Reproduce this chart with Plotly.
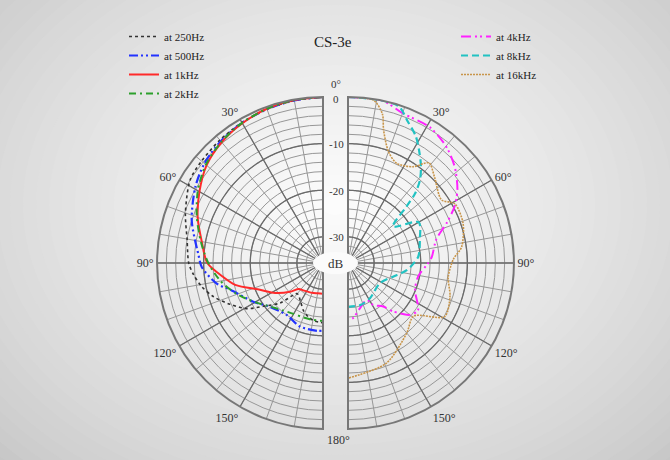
import plotly.graph_objects as go
import numpy as np

W, H = 670, 460

# ---------------- data (angle in degrees from front, level in dB) ----------------
ang_250 = [0, 10, 20, 30, 40, 50, 58, 70, 80, 90, 95, 101, 107, 114, 121, 126, 133, 140, 150, 158, 165, 172, 180]
db_250 = [0, -0.2, -0.5, -0.8, -1.2, -1.6, -2.0, -4.2, -6.0, -6.8, -7.7, -9.1, -11.0, -13.8, -16.6, -19.8, -23.0, -27.0, -26.0, -24.5, -23.6, -23.0, -22.8]

ang_500 = [0, 10, 20, 30, 40, 50, 59, 72, 86, 92, 101, 106, 119, 130, 145, 160, 175, 180]
db_500 = [0, -0.2, -0.5, -0.9, -1.5, -2.4, -3.7, -6.0, -8.8, -9.6, -12.4, -14.9, -18.5, -20.9, -22.0, -21.1, -21.0, -21.1]

ang_1k = [0, 10, 20, 30, 40, 50, 60, 70, 80, 90, 98, 104, 113, 122, 131, 137, 145, 160, 170, 180]
db_1k = [0, -0.1, -0.4, -1.0, -1.8, -3.0, -5.0, -7.0, -9.2, -10.8, -14.0, -16.2, -20.9, -23.5, -26.2, -28.0, -28.4, -28.8, -29.0, -29.0]

ang_2k = [0, 10, 20, 30, 40, 50, 60, 70, 80, 90, 100, 110, 120, 130, 140, 150, 160, 170, 180]
db_2k = [0, -0.1, -0.4, -0.9, -1.7, -2.8, -4.6, -6.8, -9.0, -11.0, -13.3, -16.0, -18.8, -21.0, -22.3, -23.0, -23.2, -23.2, -23.2]

ang_4k = [0, 12, 20, 31, 40, 48, 56, 62, 68, 75, 86, 90, 101, 112, 124, 130, 137, 141, 149, 153, 165, 175, 180]
db_4k = [0, 0, -1.4, -1.6, -2.9, -4.8, -7.3, -9.7, -12.8, -16.0, -17.6, -18.4, -20.3, -20.1, -17.5, -18.3, -21.4, -23.6, -25.1, -26.7, -25.6, -23.7, -23.4]

ang_8k = [0, 11, 18, 23, 28, 32, 37, 41, 44, 46, 51, 60, 72, 85, 97, 107, 122, 148, 164, 180]
db_8k = [0, 0, -0.3, -2.7, -4.7, -6.9, -9.6, -12.1, -14.9, -18.2, -23.2, -18.1, -19.4, -20.5, -22.9, -25.5, -27.5, -26.7, -26.2, -26.2]

ang_16k = [0, 9, 13, 15, 20, 26, 34, 39, 45, 56, 61, 71, 82, 88, 98, 108, 119, 129, 140, 159, 180]
db_16k = [0, -0.3, -2.8, -6.1, -10.2, -11.8, -10.7, -8.0, -9.4, -11.4, -9.4, -9.5, -11.0, -13.0, -13.9, -12.6, -11.9, -17.5, -16.0, -12.6, -10.9]

left_series = [
    ("at 250Hz", ang_250, db_250, "#333333", "dot", 1.6),
    ("at 500Hz", ang_500, db_500, "#2233ff", "9px,3px,2px,3px,2px,3px", 2.2),
    ("at 1kHz", ang_1k, db_1k, "#ff2a2a", "solid", 2.0),
    ("at 2kHz", ang_2k, db_2k, "#2ca02c", "7px,4px,2px,4px", 2.0),
]
right_series = [
    ("at 4kHz", ang_4k, db_4k, "#ff22ff", "10px,4px,2px,3px,2px,4px", 2.0),
    ("at 8kHz", ang_8k, db_8k, "#22c2c2", "7px,4px", 2.2),
    ("at 16kHz", ang_16k, db_16k, "#c8954a", "2px,1px", 1.6),
]

db_ticks = [0, -10, -20, -30]
angle_labels = [30, 60, 90, 120, 150]

R_MIN, R_MAX = -35.6, 0.0

# ---------------- layout geometry (pixels) ----------------
CY = 263
R_PX = 166
CX_L, CX_R = 323, 348


def px(x):
    return x / W


def py(y):
    return 1 - y / H


fig = go.Figure()

# background gradient (nested ellipses)
shapes = []
n = 40
gcx, gcy = 335, 205
for i in range(n):
    k = 1 - i / n
    rx, ry = 520 * k, 400 * k
    t = i / (n - 1)
    c = int(188 + (252 - 188) * (t ** 0.7))
    shapes.append(dict(type="circle", xref="paper", yref="paper",
                       x0=px(gcx - rx), x1=px(gcx + rx), y0=py(gcy + ry), y1=py(gcy - ry),
                       fillcolor=f"rgb({c},{c},{c})", line=dict(width=0), layer="below"))

GRID = "#979797"
MAJOR = "#6a6a6a"


def add_half(sub, series, legend):
    rr = np.linspace(R_MIN, R_MAX, 2)
    for a in range(0, 181, 30):
        fig.add_trace(go.Scatterpolar(r=rr, theta=[a, a], mode="lines", subplot=sub,
                                      line=dict(color=MAJOR, width=1.3), showlegend=False,
                                      hoverinfo="skip"))
    arc = np.linspace(0, 180, 181)
    for d in [-10, -20, -30]:
        fig.add_trace(go.Scatterpolar(r=np.full_like(arc, d), theta=arc, mode="lines",
                                      subplot=sub, line=dict(color=MAJOR, width=1.3),
                                      showlegend=False, hoverinfo="skip"))
    for name, a, d, col, dash, w in series:
        fig.add_trace(go.Scatterpolar(r=d, theta=a, mode="lines", name=name, subplot=sub,
                                      line=dict(color=col, dash=dash, width=w, shape="spline",
                                                smoothing=0.8),
                                      legend=legend))


add_half("polar", left_series, "legend")
add_half("polar2", right_series, "legend2")

angle_font = dict(family="Liberation Serif", size=12, color="#333333")


def polar_layout(side):
    if side == "L":
        sector, direction = [90, 270], "counterclockwise"
        x0, x1 = CX_L - R_PX, CX_L
    else:
        sector, direction = [-90, 90], "clockwise"
        x0, x1 = CX_R, CX_R + R_PX
    tv = list(range(0, 181, 10))
    tt = [f"{a}°" if a in angle_labels else "" for a in tv]
    return dict(
        domain=dict(x=[px(x0), px(x1)], y=[py(CY + R_PX), py(CY - R_PX)]),
        sector=sector,
        bgcolor="rgba(0,0,0,0)",
        radialaxis=dict(range=[R_MIN, R_MAX], tickvals=list(range(-34, 0, 2)),
                        showticklabels=False, ticks="", showline=False,
                        gridcolor=GRID, gridwidth=0.8),
        angularaxis=dict(rotation=90, direction=direction, tickvals=tv, ticktext=tt,
                         ticks="", gridcolor=GRID, gridwidth=0.8, showline=True,
                         linecolor="#777777", linewidth=2, tickfont=angle_font),
    )


def ann(x, y, text, size=12, color="#333333"):
    return dict(x=px(x), y=py(y), xref="paper", yref="paper", text=text, showarrow=False,
                xanchor="center", yanchor="middle",
                font=dict(family="Liberation Serif", size=size, color=color))


annotations = []
for d in db_ticks:
    ypx = CY - (d - R_MIN) / (R_MAX - R_MIN) * R_PX
    if d == 0:
        ypx += 1.5
    annotations.append(ann(336, ypx + 0.5, str(d), size=11))
annotations.append(ann(336, CY - R_PX - 13, "0°", size=11))
annotations.append(ann(338, CY + R_PX + 11, "180°", size=12))
annotations.append(ann(335.5, CY, "dB", size=13))
annotations.append(ann(333, 42, "CS-3e", size=15, color="#222222"))

# white cut-out round the centre label
shapes.append(dict(type="circle", xref="paper", yref="paper",
                   x0=px(313), x1=px(358), y0=py(274), y1=py(252),
                   fillcolor="#fbfbfb", line=dict(width=0), layer="above"))

legend_font = dict(family="Liberation Serif", size=11, color="#222222")
fig.update_layout(
    width=W, height=H,
    margin=dict(l=0, r=0, t=0, b=0),
    paper_bgcolor="#c4c4c4",
    plot_bgcolor="rgba(0,0,0,0)",
    polar=polar_layout("L"),
    polar2=polar_layout("R"),
    shapes=shapes,
    annotations=annotations,
    showlegend=True,
    legend=dict(x=px(124), y=py(22), xanchor="left", yanchor="top", bgcolor="rgba(0,0,0,0)",
                font=legend_font, itemwidth=30),
    legend2=dict(x=px(456), y=py(22), xanchor="left", yanchor="top", bgcolor="rgba(0,0,0,0)",
                 font=legend_font, itemwidth=30),
)

fig.write_html("out.html", config={"displayModeBar": False},
               post_script="document.body.style.margin='0px';")
